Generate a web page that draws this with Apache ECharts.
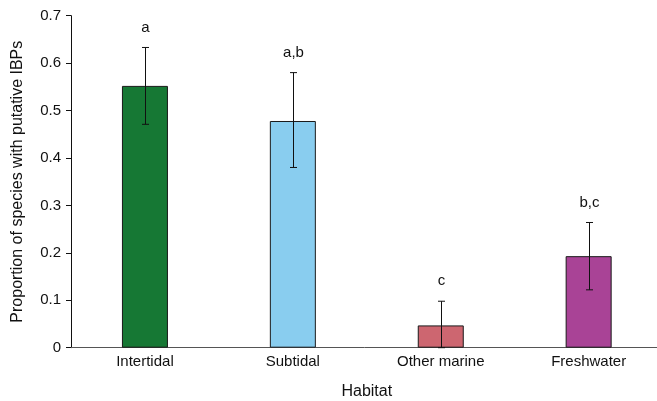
<!DOCTYPE html>
<html><head><meta charset="utf-8">
<script src="https://cdn.jsdelivr.net/npm/echarts@6/dist/echarts.min.js"></script>
<style>html,body{margin:0;padding:0;background:#fff}#c{width:657px;height:401px}</style>
</head><body><div id="c"></div>
<script>
const categories = ['Intertidal', 'Subtidal', 'Other marine', 'Freshwater'];
const values = [0.552, 0.478, 0.047, 0.193];
const errLow = [0.471, 0.380, 0.0, 0.122];
const errHigh = [0.633, 0.580, 0.098, 0.264];
const letters = ['a', 'a,b', 'c', 'b,c'];
const colors = ['#167834', '#89CDEF', '#CD6670', '#A94396'];
const yTicks = [0, 0.1, 0.2, 0.3, 0.4, 0.5, 0.6, 0.7];

const font = 'Liberation Sans, Arial, sans-serif';
const chart = echarts.init(document.getElementById('c'));
chart.setOption({
  animation: false,
  grid: { left: 71, width: 591.6, top: 15.7, height: 332, containLabel: false, outerBoundsMode: 'none' },
  xAxis: {
    type: 'category', data: categories,
    axisTick: { show: false },
    axisLine: { lineStyle: { color: '#555', width: 1 } },
    axisLabel: { color: '#111', fontSize: 15, fontFamily: font, margin: 7 },
    name: 'Habitat', nameLocation: 'middle', nameGap: 36,
    nameTextStyle: { color: '#111', fontSize: 16, fontFamily: font }
  },
  yAxis: {
    type: 'value', min: 0, max: 0.7, interval: 0.1,
    splitLine: { show: false },
    axisLine: { show: true, lineStyle: { color: '#111', width: 1 } },
    axisTick: { show: true, length: 5, lineStyle: { color: '#111' } },
    axisLabel: { color: '#111', fontSize: 15, fontFamily: font, margin: 10,
      formatter: v => { const t = yTicks.find(x => Math.abs(x - v) < 1e-9); return t === undefined ? '' : String(t); } },
    name: 'Proportion of species with putative IBPs', nameLocation: 'middle', nameGap: 45,
    nameTextStyle: { color: '#111', fontSize: 16, fontFamily: font }
  },
  series: [
    {
      type: 'bar', barWidth: 46,
      data: values.map((v, i) => ({ value: v, itemStyle: { color: colors[i], borderColor: '#1a1a1a', borderWidth: 1 } }))
    },
    {
      type: 'custom', z: 10,
      data: categories.map((c, i) => [i, errLow[i], errHigh[i]]),
      renderItem: (params, api) => {
        const i = api.value(0);
        const lo = api.coord([i, api.value(1)]);
        const hi = api.coord([i, api.value(2)]);
        const x = Math.round(lo[0]) + 0.5;
        const cap = 3.5;
        const st = { stroke: '#111', lineWidth: 1 };
        return {
          type: 'group', children: [
            { type: 'line', shape: { x1: x, y1: lo[1], x2: x, y2: hi[1] }, style: st },
            { type: 'line', shape: { x1: x - cap, y1: hi[1], x2: x + cap, y2: hi[1] }, style: st },
            { type: 'line', shape: { x1: x - cap, y1: lo[1], x2: x + cap, y2: lo[1] }, style: st },
            { type: 'text', x: x, y: hi[1] - 20, style: { text: letters[i], fill: '#111', font: '15px ' + font, align: 'center', verticalAlign: 'middle' } }
          ]
        };
      }
    }
  ]
});
</script></body></html>
